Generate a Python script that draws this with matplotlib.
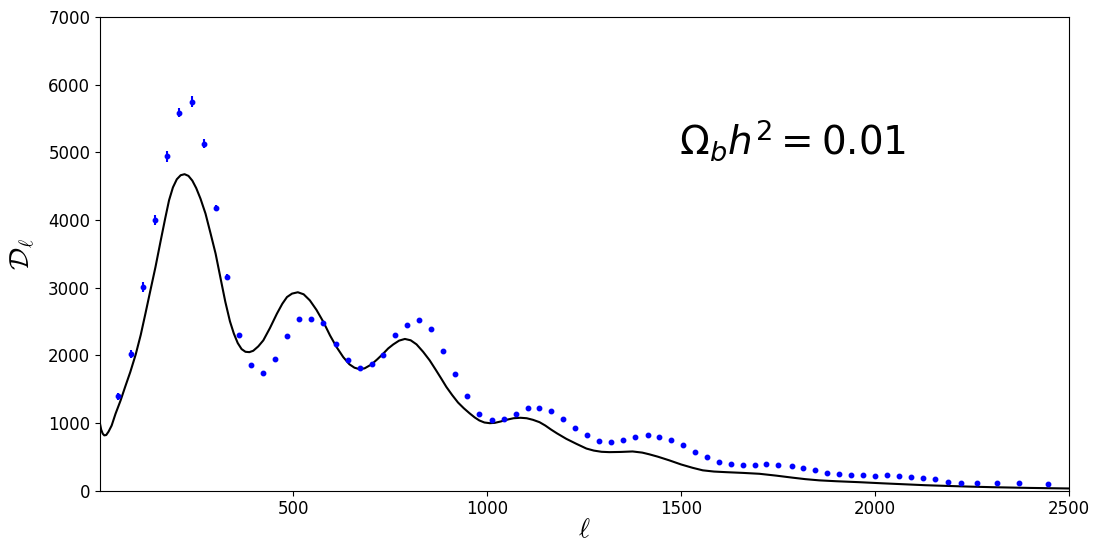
"""CMB TT power spectrum: binned data points vs. a low-baryon model curve."""
import matplotlib
matplotlib.use("Agg")
import matplotlib.pyplot as plt
import numpy as np

# binned data (multipole, D_ell, error)
ell_data = np.array([
    49, 82, 113, 144, 175, 205, 238, 269, 300, 330, 361, 392, 423, 453, 484,
    515, 545, 576, 610, 641, 671, 702, 732, 763, 794, 825, 855, 886, 917, 947,
    978, 1012, 1043, 1074, 1105, 1135, 1165, 1196, 1227, 1258, 1288, 1319, 1350,
    1382, 1414, 1444, 1475, 1505, 1537, 1568, 1598, 1629, 1660, 1690, 1720, 1751,
    1785, 1815, 1846, 1877, 1907, 1938, 1969, 2000, 2031, 2061, 2092, 2123, 2154,
    2187, 2221, 2263, 2315, 2371, 2445,
])
dl_data = np.array([
    1390, 2022, 3007, 3993, 4940, 5586, 5743, 5128, 4175, 3155, 2297, 1849, 1735,
    1942, 2282, 2539, 2539, 2474, 2170, 1923, 1815, 1864, 2008, 2297, 2440, 2525,
    2392, 2056, 1716, 1395, 1135, 1040, 1055, 1135, 1217, 1217, 1168, 1055, 927,
    813, 729, 714, 750, 784, 813, 784, 750, 666, 569, 488, 424, 395, 374, 374,
    395, 374, 359, 330, 296, 262, 247, 232, 232, 217, 232, 217, 197, 182, 167,
    133, 118, 104, 104, 104, 89,
])
dl_err = np.array([
    55, 62, 70, 75, 80, 72, 82, 60, 48, 40, 34, 30, 28, 28, 30, 30, 30, 28, 25,
    22, 20, 20, 20, 22, 22, 22, 20, 18, 16, 14, 12, 11, 11, 11, 11, 11, 10, 10,
    9, 8, 8, 8, 8, 8, 8, 8, 8, 7, 7, 7, 6, 6, 6, 6, 6, 6, 6, 6, 6, 6, 6, 6, 6,
    7, 7, 7, 7, 8, 8, 8, 9, 10, 10, 11, 12,
])

# model curve for Omega_b h^2 = 0.01
ell_model = np.array([
    2, 5, 9, 13, 18, 24, 32, 42, 55, 67, 80, 94, 107, 119, 132, 145, 158, 170,
    180, 190, 200, 210, 220, 230, 240, 250, 261, 274, 287, 300, 313, 325, 337,
    347, 357, 367, 377, 387, 397, 410, 423, 440, 458, 472, 484, 497, 512, 527,
    543, 560, 578, 595, 612, 629, 645, 658, 670, 684, 702, 717, 732, 745, 758,
    773, 788, 803, 818, 835, 852, 868, 882, 895, 910, 925, 940, 955, 968, 980,
    993, 1007, 1020, 1035, 1050, 1068, 1086, 1102, 1118, 1135, 1150, 1165, 1180,
    1204, 1230, 1256, 1275, 1295, 1315, 1345, 1375, 1400, 1418, 1440, 1470,
    1500, 1530, 1556, 1585, 1616, 1660, 1702, 1745, 1787, 1820, 1856, 1900,
    1959, 2020, 2087, 2130, 2173, 2240, 2302, 2400, 2500,
])
dl_model = np.array([
    986, 900, 840, 815, 820, 870, 960, 1134, 1330, 1535, 1750, 2010, 2300, 2613,
    2960, 3303, 3680, 4020, 4290, 4480, 4600, 4660, 4675, 4650, 4580, 4470,
    4314, 4092, 3800, 3501, 3130, 2790, 2500, 2320, 2180, 2090, 2050, 2045,
    2065, 2130, 2219, 2400, 2613, 2760, 2859, 2910, 2930, 2900, 2810, 2670,
    2490, 2292, 2119, 1972, 1865, 1815, 1795, 1805, 1864, 1940, 2022, 2100,
    2159, 2215, 2240, 2220, 2160, 2050, 1923, 1780, 1652, 1530, 1410, 1300,
    1215, 1140, 1080, 1035, 1005, 995, 1000, 1020, 1045, 1068, 1075, 1068,
    1045, 1010, 960, 900, 845, 764, 690, 620, 590, 572, 567, 570, 577, 560,
    535, 500, 445, 385, 335, 298, 280, 271, 260, 247, 220, 190, 168, 150, 137,
    123, 106, 89, 78, 70, 58, 49, 38, 30,
])

y_ticks = [0, 1000, 2000, 3000, 4000, 5000, 6000, 7000]
x_ticks = [500, 1000, 1500, 2000, 2500]

fig, ax = plt.subplots(figsize=(10.93, 5.45), dpi=100)
fig.subplots_adjust(left=0.0915, right=0.978, top=0.969, bottom=0.1)

ax.errorbar(ell_data, dl_data, yerr=dl_err, fmt="o", color="blue",
            ms=3.2, elinewidth=1.5, capsize=0, zorder=3)
ax.plot(ell_model, dl_model, color="black", lw=1.5, zorder=2)

ax.set_xlim(2, 2500)
ax.set_ylim(0, 7000)
ax.set_xticks(x_ticks)
ax.set_yticks(y_ticks)
ax.tick_params(labelsize=12)

ax.set_xlabel(r"$\ell$", fontsize=19, math_fontfamily="cm", labelpad=-1)
ax.set_ylabel(r"$\mathcal{D}_\ell$", fontsize=20, math_fontfamily="cm", labelpad=8)

ax.text(1495, 5180, r"$\Omega_b h^2 = 0.01$", fontsize=28, va="center", ha="left")

fig.savefig("out.png", dpi=100)
